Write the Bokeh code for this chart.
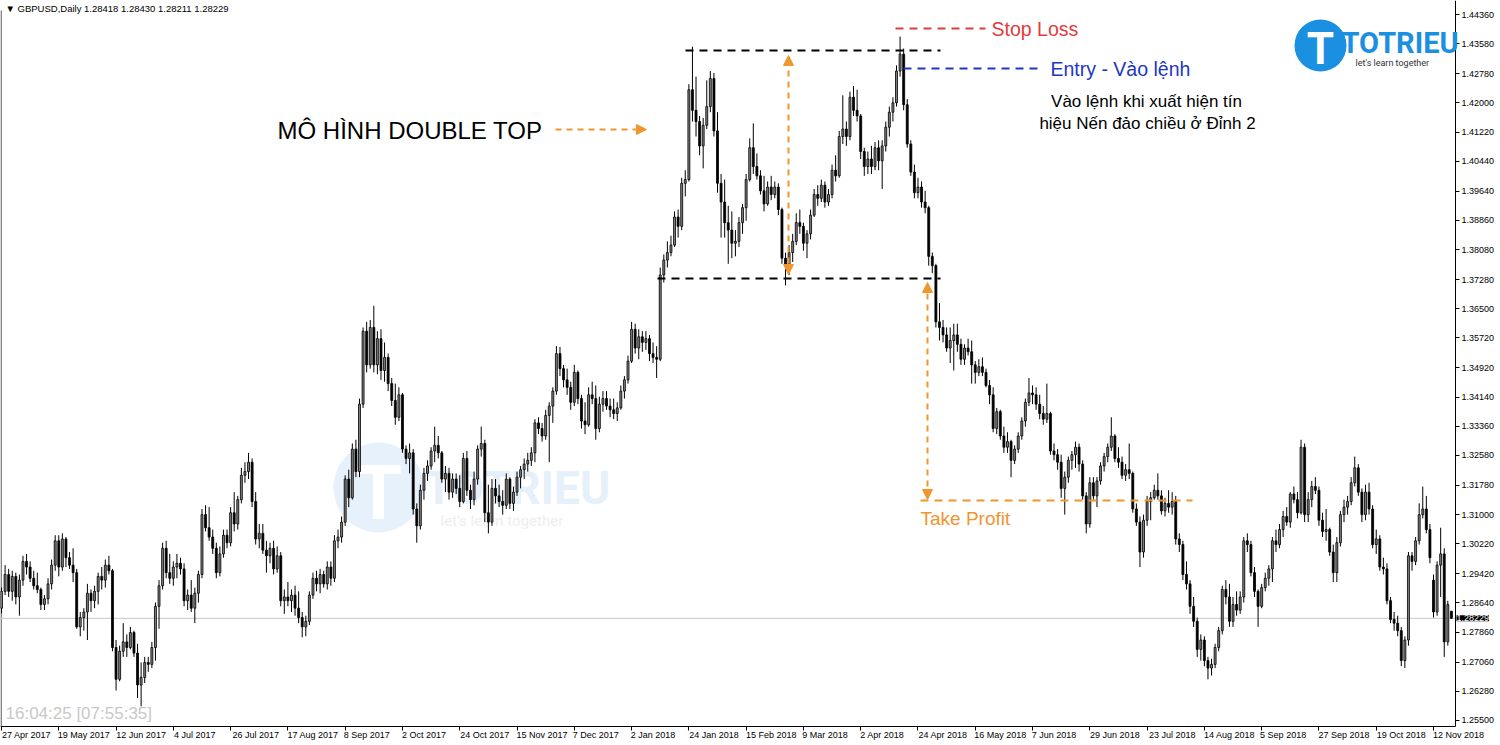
from bokeh.plotting import figure
from bokeh.models import (Range1d, LinearAxis, FixedTicker, PrintfTickFormatter, Label,
                          Arrow, NormalHead, ColumnDataSource, CustomLabelingPolicy)
from bokeh.embed import file_html
from bokeh.resources import INLINE

# ---------------- data (GBPUSD daily, prices in pips: 12850 -> 1.2850) ----------------
opens = [
12850,12895,12940,12895,12935,12880,12925,12975,12960,12930,
12910,12900,12860,12875,12915,12965,13030,12960,13035,12985,
12965,12945,12800,12825,12840,12890,12870,12895,12935,12925,
12965,12950,12745,12660,12735,12760,12745,12785,12730,12645,
12665,12705,12700,12745,12855,12910,13010,12945,12930,12960,
12970,12955,12870,12885,12850,12890,12940,13100,13065,13040,
13010,12945,12995,13045,13025,13105,13075,13140,13205,13215,
13240,13135,13035,13050,13005,12990,13010,12955,12990,12870,
12880,12870,12885,12850,12825,12800,12815,12885,12930,12915,
12940,12915,12960,12930,13030,13040,13080,13195,13145,13275,
13215,13395,13590,13500,13600,13500,13570,13485,13520,13450,
13405,13360,13420,13275,13250,13265,13115,13070,13165,13210,
13230,13270,13285,13265,13195,13210,13160,13195,13170,13135,
13250,13165,13140,13195,13275,13290,13105,13080,13170,13150,
13135,13125,13195,13130,13160,13200,13220,13235,13245,13265,
13345,13330,13310,13365,13390,13430,13530,13490,13460,13440,
13400,13480,13410,13350,13340,13420,13410,13330,13395,13410,
13390,13380,13370,13385,13430,13460,13510,13595,13545,13575,
13560,13570,13530,13520,13515,13740,13780,13800,13820,13895,
13870,13985,13995,14235,14180,14150,14085,14140,14190,14265,
14125,13985,13935,13880,13860,13825,13830,13880,13920,13995,
14080,14030,14005,13965,13930,13975,13955,13975,13915,13785,
13765,13800,13830,13880,13870,13825,13850,13900,13955,13945,
13980,13935,13955,14020,14005,14110,14130,14110,14215,14180,
14165,14070,14030,14050,14030,14080,14045,14085,14135,14175,
14200,14285,14330,14195,14090,14015,13960,13975,13935,13920,
13790,13765,13615,13600,13580,13545,13565,13580,13555,13515,
13545,13535,13500,13480,13495,13480,13445,13420,13330,13375,
13310,13280,13295,13245,13275,13310,13350,13400,13425,13420,
13395,13370,13355,13370,13270,13260,13240,13170,13200,13245,
13260,13280,13235,13150,13075,13185,13150,13190,13230,13255,
13280,13310,13250,13240,13205,13220,13210,13115,13080,13000,
13085,13135,13145,13165,13150,13110,13130,13120,13135,13035,
13020,12940,12915,12855,12815,12740,12765,12710,12690,12700,
12745,12790,12900,12880,12815,12860,12845,12880,13030,13020,
12945,12895,12855,12905,12930,12955,13030,13020,13060,13095,
13080,13155,13140,13105,13280,13100,13140,13175,13165,13085,
13055,13060,13000,12945,13025,13100,13120,13135,13185,13225,
13160,13100,13160,13115,13020,13035,12960,12955,12870,12820,
12810,12790,12710,12765,12990,12975,13030,13100,13115,13060,
12925,12840,12965,12995,12760,12841.8]

highs = [
12905,12965,12955,12950,12945,12940,12990,12995,12975,12950,
12945,12905,12885,12930,12980,13045,13045,13050,13040,13000,
13010,12955,12840,12850,12915,12900,12910,12945,12960,12980,
12990,12955,12765,12750,12810,12780,12800,12790,12755,12705,
12720,12720,12760,12865,12925,13025,13030,12995,12975,12995,
12985,12970,12900,12925,12905,12950,13115,13125,13120,13060,
13025,13015,13060,13060,13120,13160,13150,13225,13240,13265,
13250,13160,13075,13075,13030,13025,13030,13015,13000,12900,
12920,12900,12910,12895,12840,12830,12895,12945,12950,12955,
12950,12975,12975,13045,13060,13095,13205,13220,13290,13300,
13410,13600,13615,13620,13658,13590,13595,13560,13530,13465,
13450,13440,13425,13285,13290,13275,13130,13180,13225,13245,
13280,13335,13310,13270,13230,13225,13210,13210,13205,13265,
13270,13180,13215,13285,13335,13300,13180,13195,13195,13180,
13165,13210,13200,13175,13215,13230,13250,13265,13280,13355,
13360,13345,13380,13400,13440,13550,13548,13500,13490,13455,
13500,13485,13420,13400,13440,13455,13445,13415,13430,13430,
13410,13410,13400,13445,13470,13525,13615,13610,13595,13590,
13590,13580,13560,13550,13760,13795,13830,13845,13910,13915,
14000,14020,14250,14350,14270,14165,14160,14260,14285,14280,
14175,14010,13995,13925,13910,13860,13895,13930,14010,14105,
14145,14065,14020,14005,13990,14005,13990,13985,13920,13800,
13820,13850,13905,13915,13880,13860,13915,13970,13980,13995,
13990,13970,14035,14060,14125,14220,14150,14230,14245,14235,
14170,14080,14070,14085,14095,14100,14100,14150,14190,14215,
14300,14377,14345,14210,14100,14035,14000,13990,13965,13925,
13800,13770,13665,13620,13600,13600,13610,13610,13570,13555,
13570,13565,13510,13515,13520,13490,13460,13440,13385,13380,
13335,13320,13300,13285,13320,13360,13410,13465,13445,13440,
13420,13390,13450,13375,13290,13275,13260,13215,13255,13270,
13295,13290,13245,13160,13200,13200,13200,13240,13265,13290,
13360,13315,13280,13255,13235,13290,13215,13130,13095,13100,
13150,13160,13180,13210,13165,13145,13165,13160,13150,13050,
13030,12975,12925,12880,12825,12780,12775,12720,12715,12755,
12800,12910,12925,12915,12880,12895,12895,13040,13050,13030,
12960,12900,12915,12945,12965,13040,13060,13075,13110,13120,
13160,13175,13160,13300,13290,13160,13190,13200,13175,13105,
13115,13065,13020,13040,13110,13140,13150,13200,13255,13235,
13170,13180,13185,13125,13060,13045,12985,12970,12880,12840,
12830,12800,12775,13000,13000,13040,13130,13175,13150,13075,
12940,12975,13065,13010,12870,12843.0]

lows = [
12836,12885,12880,12870,12860,12830,12910,12940,12920,12900,
12890,12845,12845,12860,12900,12950,12935,12950,12960,12955,
12920,12795,12775,12790,12765,12840,12850,12860,12900,12905,
12940,12735,12630,12655,12720,12720,12740,12720,12610,12588,
12650,12680,12690,12710,12795,12900,12930,12915,12910,12930,
12940,12855,12845,12840,12810,12865,12930,13055,13030,12995,
12930,12935,12985,13010,13015,13055,13060,13130,13185,13195,
13120,13020,13010,12995,12945,12970,12940,12945,12855,12835,
12855,12840,12830,12810,12772,12775,12805,12875,12895,12890,
12905,12900,12910,12920,13010,13025,13070,13120,13140,13200,
13200,13385,13480,13490,13480,13475,13460,13455,13430,13390,
13340,13350,13265,13235,13210,13100,13025,13060,13140,13190,
13220,13240,13250,13185,13160,13140,13145,13155,13120,13130,
13150,13115,13125,13180,13255,13080,13050,13070,13130,13120,
13100,13115,13115,13110,13150,13170,13195,13215,13230,13240,
13315,13295,13300,13240,13345,13420,13470,13440,13420,13380,
13390,13395,13330,13315,13335,13395,13300,13320,13375,13380,
13360,13355,13350,13380,13410,13450,13505,13530,13515,13535,
13540,13510,13505,13465,13510,13720,13760,13790,13815,13840,
13860,13950,13990,14150,14110,14060,14025,14130,14175,14110,
13960,13840,13840,13770,13785,13790,13815,13850,13885,13990,
14010,13995,13955,13910,13925,13940,13945,13900,13770,13712,
13740,13775,13820,13850,13805,13785,13835,13895,13925,13935,
13920,13925,13945,13990,14000,14090,14085,14100,14165,14150,
14050,14005,14010,14010,14020,14020,13970,14070,14110,14150,
14190,14270,14180,14080,14005,13945,13945,13920,13905,13765,
13745,13600,13565,13560,13535,13505,13485,13535,13500,13500,
13525,13450,13450,13470,13470,13440,13395,13320,13315,13300,
13265,13265,13200,13235,13265,13300,13335,13390,13395,13380,
13355,13340,13345,13260,13245,13220,13145,13100,13185,13220,
13225,13215,13140,13050,13065,13140,13120,13180,13215,13240,
13270,13240,13225,13195,13190,13195,13105,13070,12960,12985,
13070,13085,13140,13140,13100,13095,13105,13100,13020,13000,
12925,12900,12835,12800,12720,12710,12695,12660,12670,12690,
12735,12780,12860,12800,12800,12830,12835,12865,13000,12935,
12880,12800,12850,12895,12910,12920,13000,13010,13040,13070,
13065,13130,13090,13100,13080,13080,13120,13155,13070,13040,
13030,12990,12920,12920,13015,13080,13100,13125,13175,13150,
13080,13085,13100,13010,12995,12950,12940,12860,12810,12790,
12775,12695,12690,12750,12950,12965,13020,13090,13050,12970,
12825,12830,12880,12720,12750,12821.1]

closes = [
12895,12940,12895,12935,12880,12925,12975,12960,12930,12910,
12900,12860,12875,12915,12965,13030,12960,13035,12985,12965,
12945,12800,12825,12840,12890,12870,12895,12935,12925,12965,
12950,12745,12660,12735,12760,12745,12785,12730,12645,12665,
12705,12700,12745,12855,12910,13010,12945,12930,12960,12970,
12955,12870,12885,12850,12890,12940,13100,13065,13040,13010,
12945,12995,13045,13025,13105,13075,13140,13205,13215,13240,
13135,13035,13050,13005,12990,13010,12955,12990,12870,12880,
12870,12885,12850,12825,12800,12815,12885,12930,12915,12940,
12915,12960,12930,13030,13040,13080,13195,13145,13275,13215,
13395,13590,13500,13600,13500,13570,13485,13520,13450,13405,
13360,13420,13275,13250,13265,13115,13070,13165,13210,13230,
13270,13285,13265,13195,13210,13160,13195,13170,13135,13250,
13165,13140,13195,13275,13290,13105,13080,13170,13150,13135,
13125,13195,13130,13160,13200,13220,13235,13245,13265,13345,
13330,13310,13365,13390,13430,13530,13490,13460,13440,13400,
13480,13410,13350,13340,13420,13410,13330,13395,13410,13390,
13380,13370,13385,13430,13460,13510,13595,13545,13575,13560,
13570,13530,13520,13515,13740,13780,13800,13820,13895,13870,
13985,13995,14235,14180,14150,14085,14140,14190,14265,14125,
13985,13935,13880,13860,13825,13830,13880,13920,13995,14080,
14030,14005,13965,13930,13975,13955,13975,13915,13785,13765,
13800,13830,13880,13870,13825,13850,13900,13955,13945,13980,
13935,13955,14020,14005,14110,14130,14110,14215,14180,14165,
14070,14030,14050,14030,14080,14045,14085,14135,14175,14200,
14285,14330,14195,14090,14015,13960,13975,13935,13920,13790,
13765,13615,13600,13580,13545,13565,13580,13555,13515,13545,
13535,13500,13480,13495,13480,13445,13420,13330,13375,13310,
13280,13295,13245,13275,13310,13350,13400,13425,13420,13395,
13370,13355,13370,13270,13260,13240,13170,13200,13245,13260,
13280,13235,13150,13075,13185,13150,13190,13230,13255,13280,
13310,13250,13240,13205,13220,13210,13115,13080,13000,13085,
13135,13145,13165,13150,13110,13130,13120,13135,13035,13020,
12940,12915,12855,12815,12740,12765,12710,12690,12700,12745,
12790,12900,12880,12815,12860,12845,12880,13030,13020,12945,
12895,12855,12905,12930,12955,13030,13020,13060,13095,13080,
13155,13140,13105,13280,13100,13140,13175,13165,13085,13055,
13060,13000,12945,13025,13100,13120,13135,13185,13225,13160,
13100,13160,13115,13020,13035,12960,12955,12870,12820,12810,
12790,12710,12765,12990,12975,13030,13100,13115,13060,12985,
12840,12965,12995,12760,12860,12822.9]

date_labels = ["27 Apr 2017", "19 May 2017", "12 Jun 2017", "4 Jul 2017", "26 Jul 2017",
               "17 Aug 2017", "8 Sep 2017", "2 Oct 2017", "24 Oct 2017", "15 Nov 2017",
               "7 Dec 2017", "2 Jan 2018", "24 Jan 2018", "15 Feb 2018", "9 Mar 2018",
               "2 Apr 2018", "24 Apr 2018", "16 May 2018", "7 Jun 2018", "29 Jun 2018",
               "23 Jul 2018", "14 Aug 2018", "5 Sep 2018", "27 Sep 2018", "19 Oct 2018",
               "12 Nov 2018"]
date_label_bars = [16 * k for k in range(len(date_labels))]

price_ticks = [1.44360, 1.43580, 1.42780, 1.42000, 1.41220, 1.40440, 1.39640, 1.38860,
               1.38080, 1.37280, 1.36500, 1.35720, 1.34920, 1.34140, 1.33360, 1.32580,
               1.31780, 1.31000, 1.30220, 1.29420, 1.28640, 1.27860, 1.27060, 1.26280,
               1.25500]

last_price = 1.28229
header_text = "\u25BC GBPUSD,Daily  1.28418 1.28430 1.28211 1.28229"

# pattern levels (prices)
top_level = 1.43398
neck_level = 1.37307
stop_loss = 1.43986
entry_level = 1.42917
take_profit = 1.31377

# ---------------- helpers for layout (reference pixel -> data) ----------------
PX_PER_BAR = 3.58

def ix(xref):
    return (xref - 1) / PX_PER_BAR

def py(yref):
    return 1.4436 - (yref - 14) * 0.00026714

ORANGE = "#F0962E"
FONT = "Liberation Sans"
CHART_RIGHT = 1455   # x pixel of the price-scale line
CHART_BOTTOM = 726   # y pixel of the time-scale line

O = [v / 10000 for v in opens]
Hh = [v / 10000 for v in highs]
Ll = [v / 10000 for v in lows]
C = [v / 10000 for v in closes]
idx = list(range(len(C)))
top = [max(o, c) for o, c in zip(O, C)]
bot = [min(o, c) for o, c in zip(O, C)]
fill = ["#7f7f7f" if c > o else "#000000" for o, c in zip(O, C)]

src = ColumnDataSource(dict(x=idx, h=Hh, l=Ll, top=top, bot=bot, fill=fill))

p = figure(width=1500, height=745, output_backend="svg", toolbar_location=None,
           x_range=Range1d(ix(0), ix(1500)), y_range=Range1d(py(745), py(0)),
           min_border_left=0, min_border_top=0, min_border_right=0, min_border_bottom=0,
           x_axis_location=None, y_axis_location=None)
p.grid.visible = False
p.outline_line_color = None
p.background_fill_color = "white"
p.border_fill_color = "white"

# left border of the chart window
p.line([ix(0.6), ix(0.6)], [py(10), py(CHART_BOTTOM)], line_color="#333333", line_width=1)

# ---------------- watermark (under candles) ----------------
p.scatter([ix(378)], [py(487)], size=90, marker="circle", fill_color="#e7f1fb",
          line_color=None, level="underlay")
p.add_layout(Label(x=ix(378), y=py(492), text="T", text_font="Roboto",
                   text_font_style="bold", text_font_size="76px", text_color="white",
                   text_align="center", text_baseline="middle", level="underlay"))
p.add_layout(Label(x=ix(424), y=py(487), text="TOTRIEU", text_font="Roboto",
                   text_font_style="bold", text_font_size="46px", text_color="#e6f0fa",
                   text_align="left", text_baseline="middle", level="underlay"))
p.add_layout(Label(x=ix(440), y=py(520), text="let's learn together", text_font="Roboto",
                   text_font_size="15px", text_color="#eeeeee",
                   text_align="left", text_baseline="middle", level="underlay"))

# current price line
p.line([ix(0), ix(CHART_RIGHT)], [last_price, last_price], line_color="#c8c8c8", line_width=1)

# ---------------- candles ----------------
p.segment(x0="x", y0="l", x1="x", y1="h", source=src, line_color="black", line_width=1)
p.vbar(x="x", top="top", bottom="bot", width=0.55, fill_color="fill", line_color="black",
       line_width=0.8, source=src)

# ---------------- pattern annotations ----------------
p.line([ix(685), ix(940)], [top_level, top_level], line_color="black", line_width=2, line_dash="8 6")
p.line([ix(657), ix(940)], [neck_level, neck_level], line_color="black", line_width=2, line_dash="8 6")
p.line([ix(895), ix(985)], [stop_loss, stop_loss], line_color="#e03c3c", line_width=2, line_dash="8 6")
p.line([ix(903), ix(1037)], [entry_level, entry_level], line_color="#2236c4", line_width=2, line_dash="8 6")
p.line([ix(920), ix(1192)], [take_profit, take_profit], line_color=ORANGE, line_width=2, line_dash="8 6")

def head():
    return NormalHead(size=10, fill_color=ORANGE, line_color=ORANGE)

p.add_layout(Arrow(x_start=ix(788), y_start=py(274), x_end=ix(788), y_end=py(55),
                   start=head(), end=head(), line_color=ORANGE, line_width=2, line_dash="6 5"))
p.add_layout(Arrow(x_start=ix(927), y_start=py(282), x_end=ix(927), y_end=py(499),
                   start=head(), end=head(), line_color=ORANGE, line_width=2, line_dash="6 5"))
p.add_layout(Arrow(x_start=ix(555), y_start=py(129), x_end=ix(646), y_end=py(129),
                   end=head(), line_color=ORANGE, line_width=2, line_dash="6 5"))

def txt(x, y, s, size, color, align="left"):
    p.add_layout(Label(x=x, y=y, text=s, text_font=FONT, text_font_size=size,
                       text_color=color, text_align=align, text_baseline="middle"))

txt(ix(277), py(130), "MÔ HÌNH DOUBLE TOP", "24px", "black")
txt(ix(991), py(28), "Stop Loss", "19.5px", "#e03c3c")
txt(ix(1050), py(68), "Entry - Vào lệnh", "19.5px", "#2236c4")
txt(ix(1146), py(101), "Vào lệnh khi xuất hiện tín", "17px", "black", "center")
txt(ix(1147), py(123), "hiệu Nến đảo chiều ở Đỉnh 2", "17px", "black", "center")
txt(ix(920), py(518), "Take Profit", "19px", ORANGE)

# header and clock
p.add_layout(Label(x=ix(5), y=py(8), text=header_text, text_font=FONT,
                   text_font_size="9.5px", text_color="black", text_baseline="middle"))
p.add_layout(Label(x=ix(5), y=py(713), text="16:04:25 [07:55:35]", text_font=FONT,
                   text_font_size="17px", text_color="#c8c8c8", text_baseline="middle"))

# ---------------- logo (top right) ----------------
p.scatter([ix(1320)], [py(45)], size=52, marker="circle", fill_color="#1b8fe0", line_color=None)
p.add_layout(Label(x=ix(1320), y=py(48), text="T", text_font="Roboto",
                   text_font_style="bold", text_font_size="44px", text_color="white",
                   text_align="center", text_baseline="middle"))
p.add_layout(Label(x=ix(1341), y=py(42), text="TOTRIEU", text_font="Roboto",
                   text_font_style="bold", text_font_size="29px", text_color="#1b8fe0",
                   text_align="left", text_baseline="middle"))
p.add_layout(Label(x=ix(1355), y=py(62), text="let's learn together", text_font="Roboto",
                   text_font_size="9px", text_color="#333333",
                   text_align="left", text_baseline="middle"))

# ---------------- axes ----------------
# time scale line with tick marks at the label dates (their labels are suppressed)
xticks = LinearAxis(ticker=FixedTicker(ticks=date_label_bars),
                    fixed_location=py(CHART_BOTTOM),
                    bounds=(ix(0), ix(CHART_RIGHT)),
                    major_label_policy=CustomLabelingPolicy(code="for (const i of indices) indices.unset(i)"),
                    major_label_text_font_size="9px", major_label_standoff=0,
                    major_tick_in=0, major_tick_out=4, minor_tick_out=0, minor_tick_in=0,
                    axis_line_color="black")
p.add_layout(xticks, "below")
# date labels, left-aligned at their ticks (text centred half a label width to the right)
shifted = [b + round(len(s) * 4.4 / 2 / PX_PER_BAR) for b, s in zip(date_label_bars, date_labels)]
xlabels = LinearAxis(ticker=FixedTicker(ticks=shifted),
                     fixed_location=py(CHART_BOTTOM),
                     major_label_overrides={t: s for t, s in zip(shifted, date_labels)},
                     major_label_text_font=FONT, major_label_text_font_size="9px",
                     major_label_text_color="black", major_label_standoff=3,
                     major_tick_in=0, major_tick_out=0, minor_tick_out=0, minor_tick_in=0,
                     axis_line_color=None)
p.add_layout(xlabels, "below")

# price scale, drawn at the right edge of the candle area
yaxis = LinearAxis(ticker=FixedTicker(ticks=price_ticks),
                   formatter=PrintfTickFormatter(format="%.5f"),
                   fixed_location=ix(CHART_RIGHT),
                   bounds=(py(CHART_BOTTOM), py(0)),
                   major_label_text_font=FONT, major_label_text_font_size="9px",
                   major_label_text_color="black", major_tick_in=0, major_tick_out=4,
                   minor_tick_out=0, minor_tick_in=0, major_label_standoff=2,
                   axis_line_color="black")
p.add_layout(yaxis, "right")

p.add_layout(Label(x=ix(CHART_RIGHT + 1), y=last_price, text=f"{last_price:.5f}",
                   text_font=FONT, text_font_size="9px", text_color="white",
                   background_fill_color="black", text_baseline="middle", text_align="left"))

with open("out.html", "w", encoding="utf-8") as f:
    f.write(file_html(p, INLINE))
